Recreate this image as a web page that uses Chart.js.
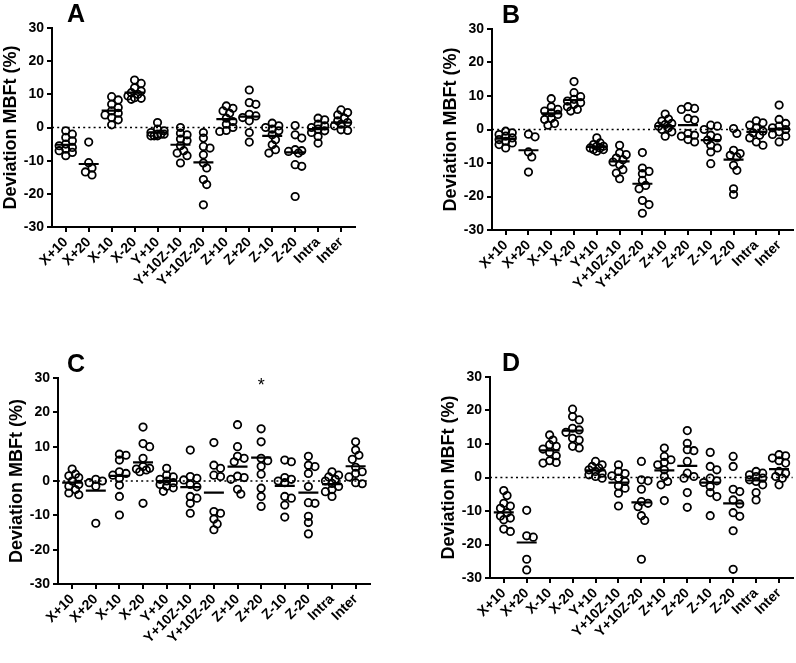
<!DOCTYPE html>
<html>
<head>
<meta charset="utf-8">
<script src="https://cdn.jsdelivr.net/npm/chart.js@4.4.1/dist/chart.umd.min.js"></script>
<style>
  html, body { margin: 0; padding: 0; background: #fff; overflow: hidden; }
  body { width: 796px; height: 663px; position: relative; }
  canvas { position: absolute; }
</style>
</head>
<body>
<canvas id="panelA"></canvas>
<canvas id="panelB"></canvas>
<canvas id="panelC"></canvas>
<canvas id="panelD"></canvas>
<script>
// categorias y ticks
const categories = ['X+10', 'X+20', 'X-10', 'X-20', 'Y+10', 'Y+10Z-10', 'Y+10Z-20',
                    'Z+10', 'Z+20', 'Z-10', 'Z-20', 'Intra', 'Inter'];
const yTicks = [-30, -20, -10, 0, 10, 20, 30];
const yTitle = 'Deviation MBFt (%)';

// Panel A
const valuesA = [
    [-1, -2, -3, -4, -5, -5.5, -6, -6.5, -7, -7.5, -8.5],
    [-4.4, -10.6, -12.2, -13.4, -14.3],
    [9.3, 8.3, 7, 6, 5, 4.3, 3.8, 3, 2.3, 0.8],
    [14.3, 13.3, 12, 11, 10.5, 10, 9.5, 9, 8.8, 8.5],
    [1.5, -0.5, -1, -1.5, -2, -2, -2, -2.5, -2.5, -2.5],
    [0, -1.7, -2.2, -3.5, -4, -5.5, -7, -7.7, -8.5, -10.7],
    [-1.5, -3.2, -5.7, -6.2, -8.2, -10.7, -12.2, -15.7, -17.2, -23.3],
    [6.5, 5.8, 5, 4.3, 2.8, 1.8, 1, 0, -0.9, -1.2],
    [11.3, 7.5, 7, 4, 3.5, 3, 2, -1.5, -4.4],
    [1.3, 0.5, 0, -0.5, -1, -2.2, -3.7, -5.2, -6.7, -7.7],
    [0.6, -2.2, -3.2, -6.7, -7, -7.2, -7.7, -11.2, -11.7, -20.8],
    [2.8, 2.3, 1, 0.5, 0, -0.5, -1, -1.5, -2.7, -4.7],
    [5.3, 4.5, 3.8, 2.8, 2, 1.5, 1, 0.5, -0.7, -0.9]
];
const meansA = [-5.2, -11, 5.1, 10.5, -1.5, -5.2, -10.5, 2.5, 3.3, -2.5, -7.5, -0.5, 1.5];

// Panel B
const valuesB = [
    [-0.5, -1, -1.5, -2, -2.5, -3, -3.5, -4, -4.5, -5.5],
    [-1.4, -2.2, -6.7, -8.2, -12.7],
    [9.2, 6.8, 6, 5.5, 5, 4.5, 3.3, 3, 1.8, 1.3],
    [14.3, 11, 9.8, 9, 8.5, 8, 7.5, 6.8, 6, 5.5],
    [-2.5, -4, -4.5, -5, -5, -5.5, -5.5, -6, -6, -6.5],
    [-4.7, -7, -7.5, -8.5, -9, -9.7, -10.5, -12, -13, -14.7],
    [-6.9, -11.5, -12.5, -13.2, -15.2, -16.7, -17.7, -21.2, -22.4, -25],
    [4.6, 3.1, 2.5, 1.8, 1.5, 1, 0.5, 0, -0.7, -2],
    [6.8, 6.3, 6, 3.3, 2.8, -1.2, -1.7, -2, -3, -3.7],
    [1.3, 1, 0, -1.7, -2.5, -3.2, -4.7, -5.5, -6.7, -10.2],
    [0.3, -1.2, -6.2, -7.2, -7.7, -8.2, -10.7, -12.2, -17.7, -19.4],
    [2.6, 2, 1.3, 0.5, -0.5, -1, -1.7, -2.5, -3.7, -4.7],
    [7.3, 3, 1.8, 1, 0.5, 0, -0.7, -1.5, -2, -3.7]
];
const meansB = [-2.7, -6.2, 4.8, 8.8, -5.2, -9.5, -16.2, 1, 1.3, -3.2, -9, -0.7, 0.2];

// Panel C
const valuesC = [
    [3.5, 2, 1.5, 1, 0, -1, -1.5, -2.5, -3.5, -4],
    [0.5, 0, -0.5, -1.5, -12.3],
    [7.8, 7.5, 6.1, 2.7, 2.2, 1.7, 0.8, -1.2, -4.5, -9.9],
    [15.7, 10.9, 10, 6.6, 4.2, 3.7, 3.5, 3.2, 2.7, -6.5],
    [3.7, 1.7, 1.2, 0.5, 0, -0.5, -1, -1.5, -2, -3],
    [9, 1.3, 0.8, 0.3, -1, -1.7, -4.5, -5, -6.5, -9.4],
    [11.2, 4.6, 3.7, 1.7, 1.3, -8.9, -9.4, -11.1, -12.5, -14.2],
    [16.4, 10, 7.2, 6.6, 5.6, 1.4, 1, 0.5, -2.4, -3.8],
    [15.2, 11.4, 6.6, 5.9, 4.3, 2, -2.1, -4.5, -7.4],
    [6.1, 5.6, 1, 0.5, 0, -0.5, -4.5, -5, -7, -10.5],
    [7.2, 4.6, 4.2, 2.2, -1.6, -6.3, -6.5, -10.3, -12.1, -15.4],
    [2.7, 1.7, 1.2, 0.5, 0, -0.7, -1.6, -2.5, -3.1, -4.5],
    [11.4, 9, 7.5, 6.3, 4, 2.7, 2.2, 1.2, -0.5, -0.8]
];
const meansC = [-0.5, -2.8, 1.5, 5.4, 0, -1.8, -3.4, 4.2, 6.8, -1.4, -3.4, -0.9, 4.3];
const starC = { category: 'Z+20', y: 27.8 };

// Panel D
const valuesD = [
    [-3.9, -5.4, -7.7, -8.5, -9.2, -10.5, -11.5, -12.1, -12.6, -15.4, -16.1],
    [-9.8, -17.4, -17.8, -24.4, -27.6],
    [12.7, 11.2, 9.8, 9.3, 8.5, 7.5, 6.5, 5, 4.5, 4.3],
    [20.4, 18.2, 17.2, 14.7, 14.2, 13.5, 11.7, 11.2, 9.3, 8.8],
    [4.8, 3.8, 3.3, 2.8, 2.3, 1.8, 1.3, 0.8, 0.3, -0.2],
    [3.8, 1.8, 1.2, 0.5, -0.2, -1.2, -2.5, -3.2, -4.7, -8.5],
    [4.8, -0.7, -1, -3.5, -7.2, -7.7, -8.7, -11.4, -12.8, -24.4],
    [8.8, 6.3, 5.3, 4.5, 3.8, 2.3, 0.3, -1.2, -2.2, -6.9],
    [14, 10.2, 8.3, 8, 4.8, 1.3, 0.3, -0.2, -4.5, -8.9],
    [7.5, 3.3, 2.3, -0.2, -1, -1.5, -2.7, -4.5, -5.7, -11.4],
    [6.3, 3.3, -3.5, -4.2, -6.7, -7.9, -10.5, -11.6, -15.9, -27.4],
    [1.8, 1.3, 0.8, 0.3, -0.2, -0.7, -1.2, -2.2, -4.5, -6.7],
    [6.8, 6.5, 5.8, 5, 4.3, 1.8, 1.3, 0.3, -0.2, -2.2]
];
const meansD = [-10.4, -19.4, 8.1, 14, 2.1, -1.5, -7.4, 2.1, 3.5, -1.5, -7.7, -0.9, 2.5];

const FONT = '"Liberation Sans", Arial, sans-serif';
const Y_W = 52, PAD_T = 28, X_H = 95, PAD_R = 12;

//Separar los puntos de cada columna para que no se tapen
function swarm(vals, pxPerCat, pxPerUnit) {
    const step = 3.3;
    const tries = [0, step, -step, 2 * step, -2 * step];
    const placed = [];
    return vals.map(v => {
        let best = 0, bestD = -1;
        for (const dx of tries) {
            let d = Infinity;
            placed.forEach(p => {
                d = Math.min(d, Math.hypot(p.dx - dx, (p.v - v) * pxPerUnit));
            });
            if (d >= 5.6) { best = dx; break; }
            if (d > bestD) { bestD = d; best = dx; }
        }
        placed.push({ dx: best, v: v });
        return best / pxPerCat;
    });
}

function drawPanel(id, letter, values, means, box, letterDx, star) {
    const canvas = document.getElementById(id);
    const w = box.r - box.l + Y_W + PAD_R;
    const h = box.b - box.t + PAD_T + X_H;
    canvas.width = w;
    canvas.height = h;
    canvas.style.width = w + 'px';
    canvas.style.height = h + 'px';
    canvas.style.left = (box.l - Y_W) + 'px';
    canvas.style.top = (box.t - PAD_T) + 'px';

    const pxPerCat = (box.r - box.l) / 13.2;
    const pxPerUnit = (box.b - box.t) / 60;
    const pts = [];
    values.forEach((vals, i) => {
        const offs = swarm(vals, pxPerCat, pxPerUnit);
        vals.forEach((v, k) => pts.push({ x: i + offs[k], y: v }));
    });
    const meanPts = means.map((m, i) => ({ x: i, y: m }));

    new Chart(canvas, {
        type: 'scatter',
        data: {
            datasets: [{
                data: [{ x: -0.6, y: 0 }, { x: 12.6, y: 0 }],
                showLine: true,
                borderColor: '#000',
                borderWidth: 1.6,
                borderDash: [2, 3.2],
                pointRadius: 0
            }, {
                data: pts,
                pointRadius: 3.7,
                pointBorderWidth: 1.8,
                pointBorderColor: '#000',
                pointBackgroundColor: 'rgba(255,255,255,0)'
            }, {
                data: meanPts,
                pointStyle: 'line',
                pointRadius: 10,
                pointBorderWidth: 2.2,
                pointBorderColor: '#000'
            }]
        },
        options: {
            responsive: false,
            animation: false,
            events: [],
            layout: { padding: { left: 0, top: PAD_T, right: PAD_R, bottom: 0 } },
            plugins: {
                legend: { display: false },
                tooltip: { enabled: false }
            },
            scales: {
                x: {
                    type: 'linear',
                    min: -0.6,
                    max: 12.6,
                    afterBuildTicks: s => { s.ticks = categories.map((c, i) => ({ value: i })); },
                    afterFit: s => { s.height = X_H; },
                    ticks: {
                        callback: v => categories[v],
                        autoSkip: false,
                        minRotation: 45,
                        maxRotation: 45,
                        color: '#000',
                        padding: 2,
                        font: { family: FONT, size: 14, weight: 'bold' }
                    },
                    grid: { drawOnChartArea: false, drawTicks: true, tickLength: 5, color: '#000', lineWidth: 2 },
                    border: { display: true, color: '#000', width: 2 }
                },
                y: {
                    min: -30,
                    max: 30,
                    afterBuildTicks: s => { s.ticks = yTicks.map(v => ({ value: v })); },
                    afterFit: s => { s.width = Y_W; },
                    ticks: {
                        color: '#000',
                        padding: 3,
                        font: { family: FONT, size: 14, weight: 'bold' }
                    },
                    title: {
                        display: true,
                        text: yTitle,
                        color: '#000',
                        padding: 0,
                        font: { family: FONT, size: 18, weight: 'bold' }
                    },
                    grid: { drawOnChartArea: false, drawTicks: true, tickLength: 5, color: '#000', lineWidth: 2 },
                    border: { display: true, color: '#000', width: 2 }
                }
            }
        },
        plugins: [{
            id: 'panelLetter',
            afterDraw(chart) {
                const { ctx, chartArea, scales } = chart;
                ctx.save();
                ctx.fillStyle = '#000';
                ctx.textBaseline = 'alphabetic';
                ctx.font = 'bold 25px ' + FONT;
                ctx.fillText(letter, chartArea.left + letterDx, chartArea.top - 6);
                if (star) {
                    ctx.font = '18px ' + FONT;
                    ctx.textAlign = 'center';
                    ctx.textBaseline = 'middle';
                    const xi = categories.indexOf(star.category);
                    ctx.fillText('*', scales.x.getPixelForValue(xi), scales.y.getPixelForValue(star.y));
                }
                ctx.restore();
            }
        }]
    });
}

drawPanel('panelA', 'A', valuesA, meansA, { l: 52, t: 28, r: 355, b: 227 }, 15, null);
drawPanel('panelB', 'B', valuesB, meansB, { l: 492, t: 29, r: 793, b: 230 }, 10, null);
drawPanel('panelC', 'C', valuesC, meansC, { l: 58, t: 378, r: 370, b: 584 }, 9, starC);
drawPanel('panelD', 'D', valuesD, meansD, { l: 490, t: 377, r: 793, b: 578 }, 12, null);
</script>
</body>
</html>
